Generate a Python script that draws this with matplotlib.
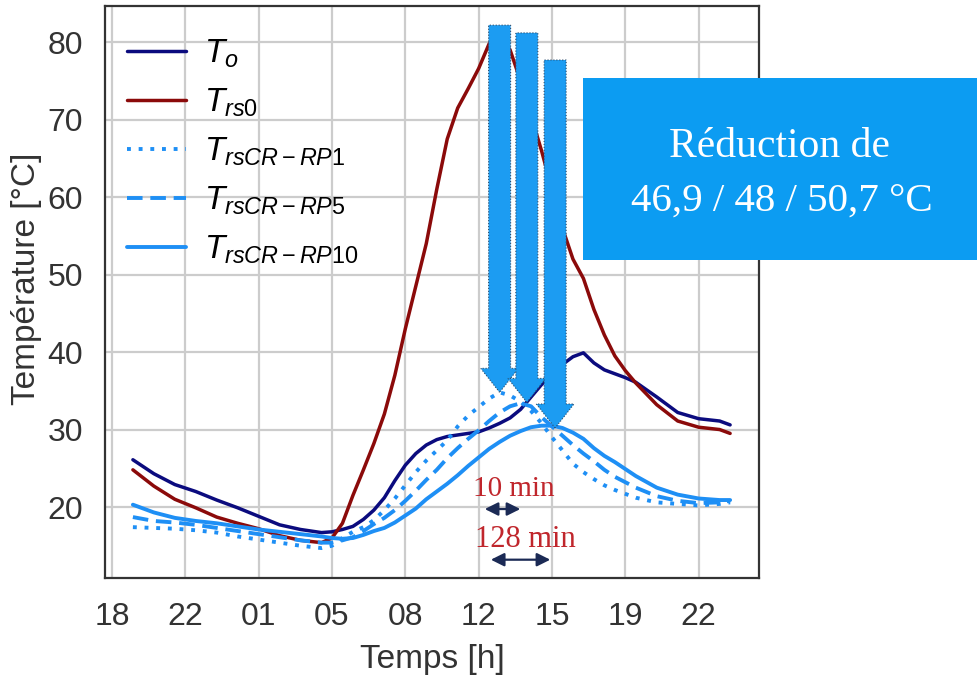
import matplotlib
matplotlib.use('Agg')
import matplotlib.pyplot as plt
from matplotlib.patches import FancyArrow, Rectangle

plt.rcParams['font.family'] = ['Liberation Sans', 'DejaVu Sans']
plt.rcParams['mathtext.fontset'] = 'custom'
plt.rcParams['mathtext.it'] = 'Liberation Sans:italic'
plt.rcParams['mathtext.rm'] = 'Liberation Sans'

# temps en heures depuis 0h du premier jour
t = [19, 20, 21, 22, 23, 24, 25, 26, 27, 28, 28.5, 29, 29.5, 30, 30.5, 31, 31.5, 32, 32.5,
     33, 33.5, 34, 34.5, 35, 35.5, 36, 36.5, 37, 37.5, 38, 38.5, 39, 39.5, 40, 40.5, 41,
     41.5, 42, 42.5, 43, 44, 45, 46, 47, 47.5]

T_o = [26.1, 24.3, 22.9, 22.0, 20.9, 19.9, 18.8, 17.7, 17.1, 16.7, 16.8, 17.1, 17.5, 18.4,
       19.6, 21.2, 23.4, 25.4, 26.9, 28.0, 28.7, 29.1, 29.3, 29.5, 29.7, 30.2, 30.8, 31.5,
       32.6, 34.2, 35.8, 37.2, 38.4, 39.4, 39.9, 38.6, 37.7, 37.2, 36.7, 36.1, 34.2, 32.2,
       31.4, 31.1, 30.6]

T_rs0 = [24.8, 22.7, 21.0, 19.9, 18.7, 17.9, 17.2, 16.3, 15.7, 15.4, 16.0, 17.9, 21.5, 24.8,
         28.2, 32.0, 37.0, 43.0, 48.5, 54.0, 61.0, 67.5, 71.5, 74.0, 76.6, 79.8, 81.3, 79.0,
         75.0, 70.5, 66.0, 61.0, 56.0, 52.0, 49.5, 45.5, 42.2, 39.5, 37.6, 36.0, 33.2, 31.1,
         30.3, 30.0, 29.5]

T_rp1 = [17.4, 17.3, 17.2, 17.0, 16.7, 16.2, 15.8, 15.4, 15.0, 14.7, 15.0, 16.0, 16.8, 17.4,
         18.3, 19.6, 21.1, 22.8, 24.5, 26.0, 27.3, 28.6, 30.4, 31.8, 32.9, 34.0, 34.8, 34.4,
         33.6, 32.4, 30.8, 29.0, 27.3, 25.6, 24.5, 23.6, 22.8, 22.2, 21.7, 21.2, 20.6, 20.4,
         20.2, 20.4, 20.6]

T_rp5 = [18.7, 18.2, 18.0, 17.7, 17.3, 16.9, 16.5, 16.1, 15.7, 15.4, 15.4, 15.7, 16.1, 16.9,
         17.8, 18.6, 19.6, 20.8, 22.1, 23.5, 24.8, 26.3, 27.6, 28.8, 29.9, 31.1, 32.2, 33.0,
         33.4, 33.0, 31.6, 30.4, 29.2, 28.0, 26.9, 25.9, 24.8, 23.9, 23.2, 22.5, 21.4, 20.8,
         20.5, 20.6, 20.8]

T_rp10 = [20.3, 19.3, 18.6, 18.2, 17.9, 17.5, 17.1, 16.8, 16.5, 16.2, 16.0, 15.9, 16.0, 16.4,
          16.9, 17.3, 18.0, 18.9, 19.8, 21.0, 22.0, 23.0, 24.1, 25.3, 26.4, 27.5, 28.4, 29.2,
          29.8, 30.3, 30.5, 30.5, 30.2, 29.6, 28.8, 27.6, 26.6, 25.8, 24.9, 24.0, 22.5, 21.6,
          21.1, 20.9, 20.9]

xticks = [18, 21.5, 25, 28.5, 32, 35.5, 39, 42.5, 46]
xlabels = ['18', '22', '01', '05', '08', '12', '15', '19', '22']

navy = '#0b0b7e'
rouge = '#8b0a0a'
bleu = '#1e8ff5'

fig = plt.figure(figsize=(9.77, 6.84), dpi=100)
ax = fig.add_axes([0.1075, 0.155, 0.6694, 0.836])

st = dict(solid_joinstyle='round', solid_capstyle='round', zorder=3)
ax.plot(t, T_o, color=navy, lw=2.5, label=r'$T_o$', **st)
ax.plot(t, T_rs0, color=rouge, lw=2.5, label=r'$T_{rs0}$', **st)
ax.plot(t, T_rp1, color=bleu, lw=2.8, ls=(0, (1, 2)), label=r'$T_{rsCR-RP1}$', **st)
ax.plot(t, T_rp5, color=bleu, lw=2.8, ls=(0, (4, 2)), label=r'$T_{rsCR-RP5}$', **st)
ax.plot(t, T_rp10, color=bleu, lw=2.8, label=r'$T_{rsCR-RP10}$', **st)

ax.set_xlim(17.67, 48.88)
ax.set_ylim(10.84, 84.65)
ax.set_xticks(xticks)
ax.set_xticklabels(xlabels)
ax.set_yticks([20, 30, 40, 50, 60, 70, 80])
ax.tick_params(length=0, labelsize=23, colors='#333333')
ax.tick_params(axis='y', pad=16)
ax.tick_params(axis='x', pad=17)
ax.grid(True, color='#cccccc', lw=1.6)
ax.set_axisbelow(True)
for s in ax.spines.values():
    s.set_color('#333333')
    s.set_linewidth(1.6)

ax.set_xlabel('Temps [h]', fontsize=24, color='#333333')
ax.set_ylabel('Température [°C]', fontsize=24, color='#333333')
ax.xaxis.set_label_coords(0.5, -0.115)
ax.yaxis.set_label_coords(-0.097, 0.523)

leg = ax.legend(loc='upper left', bbox_to_anchor=(0.034, 0.945), frameon=False, fontsize=24,
                handlelength=1.75, handletextpad=0.55, labelspacing=0.5,
                borderaxespad=0, borderpad=0)

# grosses fleches vers les pics
for x, haut, pointe in [(36.5, 82.2, 34.8), (37.8, 81.2, 33.5), (39.15, 77.7, 30.2)]:
    ax.add_patch(FancyArrow(x, haut, 0, pointe - haut, width=1.05, head_width=1.8,
                            head_length=3.1, length_includes_head=True, fc='#1c9cf2',
                            ec='#2a4a6a', ls=':', lw=0.8, zorder=6))

# decalages temporels
fl = dict(arrowstyle='<|-|>', color='#1b2a55', lw=1.6, mutation_scale=20)
ax.annotate('', xy=(37.62, 19.74), xytext=(35.66, 19.74), arrowprops=fl, zorder=7)
ax.annotate('', xy=(39.05, 13.2), xytext=(35.95, 13.2), arrowprops=fl, zorder=7)
ax.text(37.2, 22.3, '10 min', color='#c0262c', fontsize=21, family='Liberation Serif',
        ha='center', va='center', zorder=7)
ax.text(37.75, 15.8, '128 min', color='#c0262c', fontsize=22, family='Liberation Serif',
        ha='center', va='center', zorder=7)

fig.add_artist(Rectangle((0.5967, 0.620), 0.41, 0.266, transform=fig.transFigure,
                         fc='#0c9cf2', ec='none', zorder=10))
fig.text(0.798, 0.786, 'Réduction de', color='white', fontsize=30, family='Liberation Serif',
         ha='center', va='center', zorder=11)
fig.text(0.800, 0.706, '46,9 / 48 / 50,7 °C', color='white', fontsize=29.5,
         family='Liberation Serif', ha='center', va='center', zorder=11)

fig.savefig('out.png', dpi=100)
